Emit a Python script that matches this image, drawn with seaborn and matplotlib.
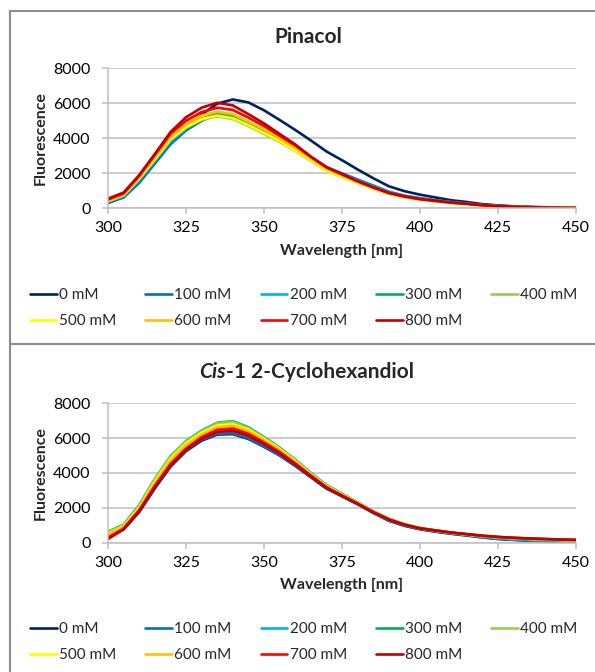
import matplotlib

matplotlib.use("Agg")
import matplotlib.pyplot as plt
import numpy as np
import pandas as pd
import seaborn as sns
from matplotlib.patches import Rectangle

sns.set_theme(style="white")
plt.rcParams["font.family"] = ["Lato", "DejaVu Sans"]

wavelength = list(range(300, 455, 5))
concs = ["0 mM", "100 mM", "200 mM", "300 mM", "400 mM",
         "500 mM", "600 mM", "700 mM", "800 mM"]
colors = ["#002060", "#0070C0", "#00B0F0", "#00B050", "#92D050",
          "#FFFF00", "#FFC000", "#FF0000", "#C00000"]

# Pinacol
pin_0 = [300, 650, 1550, 2700, 3800, 4650, 5350, 5980, 6220, 6050, 5600, 5050, 4480, 3880, 3250,
         2750, 2220, 1720, 1260, 980, 780, 620, 460, 360, 240, 165, 115, 80, 60, 40, 30]
pin_100 = [330, 620, 1450, 2550, 3650, 4450, 5000, 5380, 5300, 4900, 4450, 3950, 3450, 2900, 2350,
           2000, 1650, 1300, 950, 720, 580, 460, 360, 280, 200, 140, 100, 70, 50, 35, 25]
pin_200 = [380, 700, 1600, 2700, 3800, 4550, 5100, 5420, 5300, 4900, 4450, 3950, 3450, 2900, 2300,
           1950, 1600, 1250, 920, 700, 560, 450, 350, 270, 190, 130, 90, 60, 45, 35, 25]
pin_300 = [410, 750, 1690, 2800, 3930, 4650, 5120, 5350, 5200, 4780, 4320, 3850, 3320, 2750, 2170,
           1820, 1460, 1130, 840, 650, 505, 405, 315, 245, 170, 112, 82, 56, 40, 30, 20]
pin_400 = [400, 740, 1680, 2780, 3900, 4600, 5050, 5250, 5100, 4700, 4250, 3800, 3280, 2720, 2150,
           1800, 1450, 1120, 830, 640, 500, 400, 310, 240, 165, 110, 80, 55, 40, 30, 20]
pin_500 = [420, 760, 1700, 2800, 3950, 4650, 5100, 5300, 5150, 4750, 4300, 3850, 3300, 2750, 2150,
           1800, 1450, 1120, 830, 640, 500, 400, 310, 240, 165, 110, 80, 55, 40, 30, 20]
pin_600 = [450, 800, 1750, 2900, 4050, 4800, 5300, 5520, 5380, 4950, 4500, 4000, 3450, 2850, 2250,
           1880, 1500, 1150, 850, 650, 510, 410, 320, 250, 170, 115, 85, 55, 40, 30, 20]
pin_700 = [500, 850, 1850, 3050, 4250, 5000, 5500, 5750, 5620, 5180, 4700, 4150, 3600, 2950, 2350,
           1950, 1550, 1200, 880, 680, 530, 430, 330, 260, 180, 120, 90, 60, 40, 30, 20]
pin_800 = [550, 900, 1900, 3100, 4350, 5200, 5750, 6030, 5880, 5380, 4850, 4250, 3650, 2950, 2350,
           1950, 1550, 1200, 880, 680, 530, 430, 330, 260, 180, 120, 90, 60, 40, 30, 20]

# cis-1,2-cyclohexandiol
cyc_0 = [280, 750, 1750, 3100, 4350, 5250, 5850, 6200, 6230, 5950, 5500, 5000, 4400, 3750, 3100,
         2650, 2200, 1700, 1250, 960, 760, 620, 500, 400, 290, 200, 150, 110, 80, 50, 30]
cyc_100 = [320, 780, 1780, 3150, 4400, 5300, 5900, 6250, 6280, 5980, 5530, 5020, 4420, 3770, 3120,
           2670, 2220, 1720, 1270, 970, 770, 630, 510, 410, 300, 210, 160, 120, 90, 60, 40]
cyc_200 = [600, 1000, 2100, 3600, 4900, 5800, 6400, 6850, 6950, 6600, 6050, 5450, 4750, 4000, 3300,
           2800, 2300, 1800, 1370, 1050, 830, 680, 550, 450, 340, 250, 190, 150, 110, 80, 60]
cyc_300 = [620, 1020, 2150, 3650, 4950, 5830, 6430, 6880, 6970, 6620, 6050, 5450, 4750, 3980, 3290,
           2790, 2290, 1790, 1360, 1050, 830, 690, 560, 460, 360, 280, 230, 190, 160, 130, 110]
cyc_400 = [600, 1000, 2120, 3620, 4920, 5800, 6400, 6840, 6930, 6580, 6020, 5420, 4720, 3960, 3270,
           2770, 2280, 1780, 1350, 1040, 820, 680, 560, 460, 360, 290, 240, 200, 170, 140, 120]
cyc_500 = [500, 920, 2000, 3500, 4800, 5700, 6300, 6720, 6800, 6480, 5950, 5380, 4680, 3930, 3250,
           2750, 2270, 1770, 1350, 1040, 820, 680, 560, 460, 370, 300, 250, 210, 180, 150, 130]
cyc_600 = [450, 880, 1950, 3420, 4700, 5600, 6200, 6620, 6700, 6400, 5880, 5320, 4630, 3900, 3220,
           2730, 2260, 1760, 1340, 1040, 820, 690, 570, 470, 380, 310, 260, 220, 190, 160, 140]
cyc_700 = [280, 800, 1850, 3250, 4500, 5400, 6050, 6480, 6550, 6250, 5750, 5200, 4550, 3850, 3180,
           2700, 2240, 1750, 1330, 1030, 820, 690, 570, 480, 390, 320, 270, 230, 200, 170, 150]
cyc_800 = [200, 760, 1800, 3180, 4420, 5330, 5950, 6350, 6420, 6130, 5650, 5120, 4480, 3800, 3140,
           2680, 2220, 1740, 1320, 1020, 810, 690, 570, 480, 390, 320, 270, 230, 200, 170, 150]

pinacol = [pin_0, pin_100, pin_200, pin_300, pin_400, pin_500, pin_600, pin_700, pin_800]
cyclo = [cyc_0, cyc_100, cyc_200, cyc_300, cyc_400, cyc_500, cyc_600, cyc_700, cyc_800]


def to_long(series):
    rows = []
    for conc, vals in zip(concs, series):
        for wl, v in zip(wavelength, vals):
            rows.append({"wl": wl, "F": v, "conc": conc})
    return pd.DataFrame(rows)


W, H = 595, 672
fig = plt.figure(figsize=(W / 100, H / 100), dpi=100)
palette = dict(zip(concs, colors))
grey = "#BFBFBF"


def panel(top_px, bottom_px):
    ax = fig.add_axes([108 / W, 1 - bottom_px / H, 468 / W, (bottom_px - top_px) / H])
    return ax


def style(ax, data):
    sns.lineplot(data=data, x="wl", y="F", hue="conc", hue_order=concs,
                 palette=palette, lw=1.9, ax=ax, legend=True)
    ax.set_xlim(300, 450)
    ax.set_ylim(0, 8000)
    ax.set_xticks(range(300, 451, 25))
    ax.set_yticks(range(0, 8001, 2000))
    ax.yaxis.grid(True, color=grey, lw=1.1)
    ax.xaxis.grid(False)
    for s in ["top", "right"]:
        ax.spines[s].set_visible(False)
    for s in ["left", "bottom"]:
        ax.spines[s].set_color(grey)
        ax.spines[s].set_linewidth(1.1)
    ax.tick_params(axis="both", length=4.5, width=1.1, color=grey, direction="out",
                   labelsize=11.5, labelcolor="black", left=True, bottom=True)
    ax.tick_params(axis="x", pad=5)
    ax.tick_params(axis="y", pad=8)
    ax.set_xlabel("Wavelength [nm]", fontsize=11.5, fontweight="bold", labelpad=6)
    ax.set_ylabel("Fluorescence", fontsize=11.5, fontweight="bold", labelpad=4)
    handles, labels = ax.get_legend_handles_labels()
    ax.get_legend().remove()
    order = [0, 5, 1, 6, 2, 7, 3, 8, 4]
    return [handles[i] for i in order], [labels[i] for i in order]


def add_legend(handles, labels, ycenter_px):
    fig.legend(handles, labels, ncol=5, loc="center left",
               bbox_to_anchor=(30 / W, 1 - ycenter_px / H), frameon=False,
               fontsize=11, handlelength=1.75, handletextpad=0.15,
               columnspacing=1.9, labelspacing=0.78, borderpad=0, borderaxespad=0)


ax1 = panel(68.3, 208.3)
h, l = style(ax1, to_long(pinacol))
add_legend(h, l, 308)
fig.text(308 / W, 1 - 43 / H, "Pinacol", ha="center", va="baseline",
         fontsize=15, fontweight="bold")

ax2 = panel(403.3, 542.5)
h, l = style(ax2, to_long(cyclo))
add_legend(h, l, 642)
t1 = fig.text(199 / W, 1 - 378 / H, "Cis", ha="left", va="baseline",
              fontsize=15, fontweight="bold", fontstyle="italic")
ax2.annotate("-1 2-Cyclohexandiol", xy=(1, 0), xycoords=t1, ha="left", va="bottom",
             fontsize=15, fontweight="bold", annotation_clip=False)

# chart area borders
border = "#8C8C8C"
fig.add_artist(Rectangle((10 / W, 1 - 344 / H), 600 / W, 333 / H, transform=fig.transFigure,
                         fill=False, edgecolor=border, lw=1.5))
fig.add_artist(Rectangle((10 / W, -0.05), 600 / W, 1 - 344 / H + 0.05, transform=fig.transFigure,
                         fill=False, edgecolor=border, lw=1.5))

fig.savefig("out.png", dpi=100)
